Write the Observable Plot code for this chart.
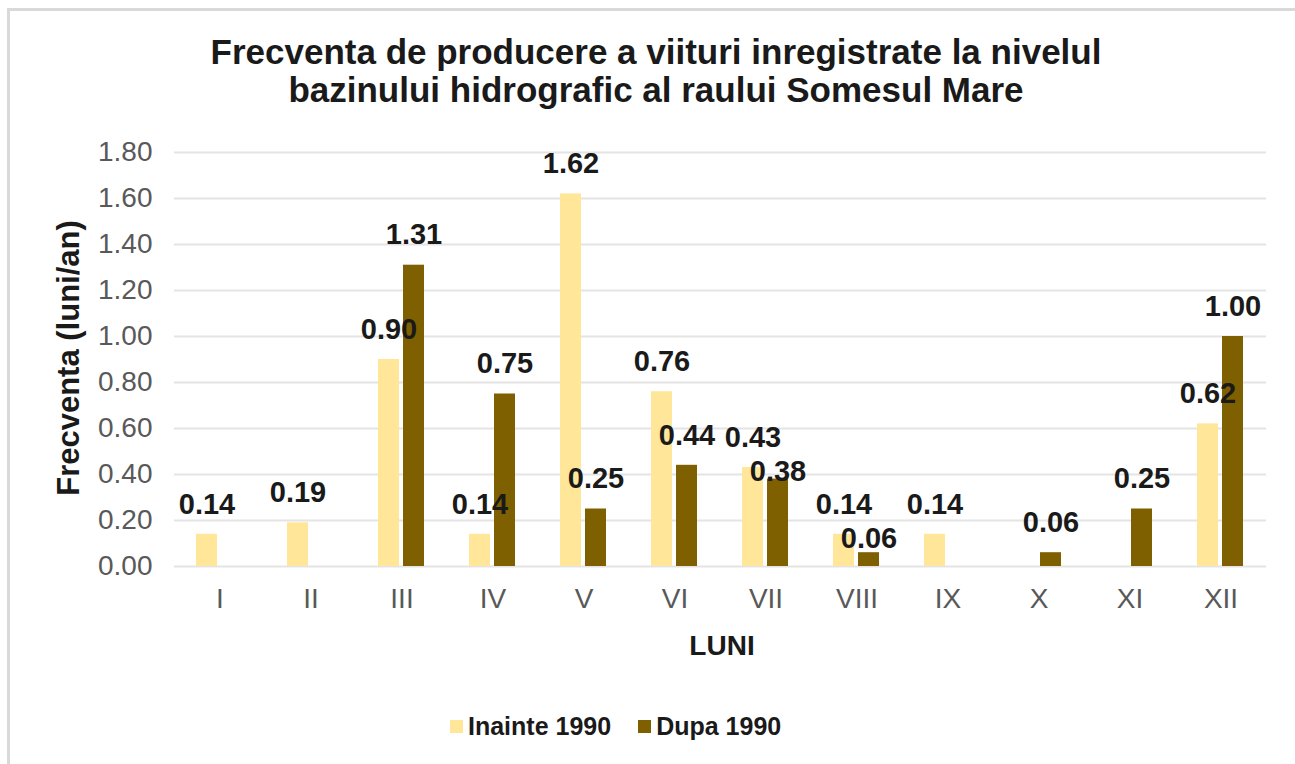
<!DOCTYPE html>
<html>
<head>
<meta charset="utf-8">
<script src="https://cdn.jsdelivr.net/npm/d3@7"></script>
<script src="https://cdn.jsdelivr.net/npm/@observablehq/plot@0.6"></script>
<style>
  html, body { margin: 0; padding: 0; background: #fff; overflow: hidden; }
  body { width: 1295px; height: 764px; position: relative; font-family: "Liberation Sans", Arial, sans-serif; }
  #clip { position: absolute; left: 0; top: 0; width: 1295px; height: 764px; overflow: hidden; }
  #frame { position: absolute; left: 7px; top: 8px; width: 1320px; height: 800px; border-left: 3px solid #d9d9d9; border-top: 3px solid #d9d9d9; }
  #title { position: absolute; left: 0; width: 1312px; top: 33px; text-align: center; font-weight: bold; font-size: 35px; line-height: 38px; color: #1a1a1a; white-space: nowrap; }
  #chart { position: absolute; left: 0; top: 130px; }
  #ytitle { position: absolute; left: 69px; top: 358px; transform: translate(-50%, -50%) rotate(-90deg); white-space: nowrap; font-weight: bold; font-size: 31px; color: #1a1a1a; }
  #xtitle { position: absolute; left: 722px; top: 646px; transform: translate(-50%, -50%); font-weight: bold; font-size: 28px; color: #1a1a1a; }
  #legend { position: absolute; left: 450px; top: 712px; display: flex; align-items: center; font-weight: bold; font-size: 25px; color: #1a1a1a; }
  .item { display: flex; align-items: center; margin-right: 27px; }
  .sw { width: 13px; height: 13px; margin-right: 5px; }
</style>
</head>
<body>
<div id="clip">
<div id="frame"></div>
<div id="title">Frecventa de producere a viituri inregistrate la nivelul<br>bazinului hidrografic al raului Somesul Mare</div>
<div id="chart"></div>
<div id="ytitle">Frecventa (luni/an)</div>
<div id="xtitle">LUNI</div>
<div id="legend"></div>
</div>
<script>
// Data
const months = ["I","II","III","IV","V","VI","VII","VIII","IX","X","XI","XII"];
const seriesNames = ["Inainte 1990", "Dupa 1990"];
const inainte = [0.14, 0.19, 0.90, 0.14, 1.62, 0.76, 0.43, 0.14, 0.14, 0, 0, 0.62];
const dupa    = [0, 0, 1.31, 0.75, 0.25, 0.44, 0.38, 0.06, 0, 0.06, 0.25, 1.00];
const yTicks = [0, 0.2, 0.4, 0.6, 0.8, 1.0, 1.2, 1.4, 1.6, 1.8];
const colors = ["#FFE699", "#7F6000"];

// Layout
const W = 1295, H = 530, MT = 22, MB = 94, ML = 172, MR = 27;
const yMax = 1.8;
const pxPerUnit = (H - MT - MB) / yMax;
const labelGap = 34 / pxPerUnit; // minimum vertical gap between paired labels, in data units

const rows = [];
months.forEach((m, i) => {
  const a = inainte[i], b = dupa[i];
  let labelB = b;
  // avoid overlap of the two labels of the same month
  if (a > 0 && b > 0 && Math.abs(a - b) < labelGap) {
    if (b <= a) labelB = a - labelGap;
  }
  rows.push({month: m, series: seriesNames[0], value: a, labelY: a});
  rows.push({month: m, series: seriesNames[1], value: b, labelY: labelB});
});

const chart = Plot.plot({
  width: W,
  height: H,
  marginTop: MT,
  marginBottom: MB,
  marginLeft: ML,
  marginRight: MR,
  style: {fontFamily: "'Liberation Sans', Arial, sans-serif", fontSize: "28px", color: "#595959", background: "transparent"},
  fx: {domain: months, padding: 0, label: null, axis: "bottom", tickSize: 0, tickPadding: 22},
  x: {domain: seriesNames, axis: null, paddingInner: 0.154, paddingOuter: 0.833},
  y: {domain: [0, yMax], axis: "left", ticks: yTicks, tickFormat: d3.format(".2f"), tickSize: 0, tickPadding: 22, label: null},
  color: {domain: seriesNames, range: colors},
  marks: [
    Plot.gridY(yTicks, {stroke: "#e4e4e4", strokeOpacity: 1, strokeWidth: 2}),
    Plot.barY(rows, {fx: "month", x: "series", y: "value", fill: "series"}),
    Plot.text(rows.filter(d => d.value > 0), {
      fx: "month", x: "series", y: "labelY",
      text: d => d3.format(".2f")(d.value),
      dy: -30, fontWeight: "bold", fontSize: 29, fill: "#1a1a1a"
    })
  ]
});
document.getElementById("chart").appendChild(chart);

const legend = document.getElementById("legend");
seriesNames.forEach((s, i) => {
  const it = document.createElement("div");
  it.className = "item";
  const sw = document.createElement("div");
  sw.className = "sw";
  sw.style.background = colors[i];
  const tx = document.createElement("span");
  tx.textContent = s;
  it.appendChild(sw); it.appendChild(tx);
  legend.appendChild(it);
});
</script>
</body>
</html>
